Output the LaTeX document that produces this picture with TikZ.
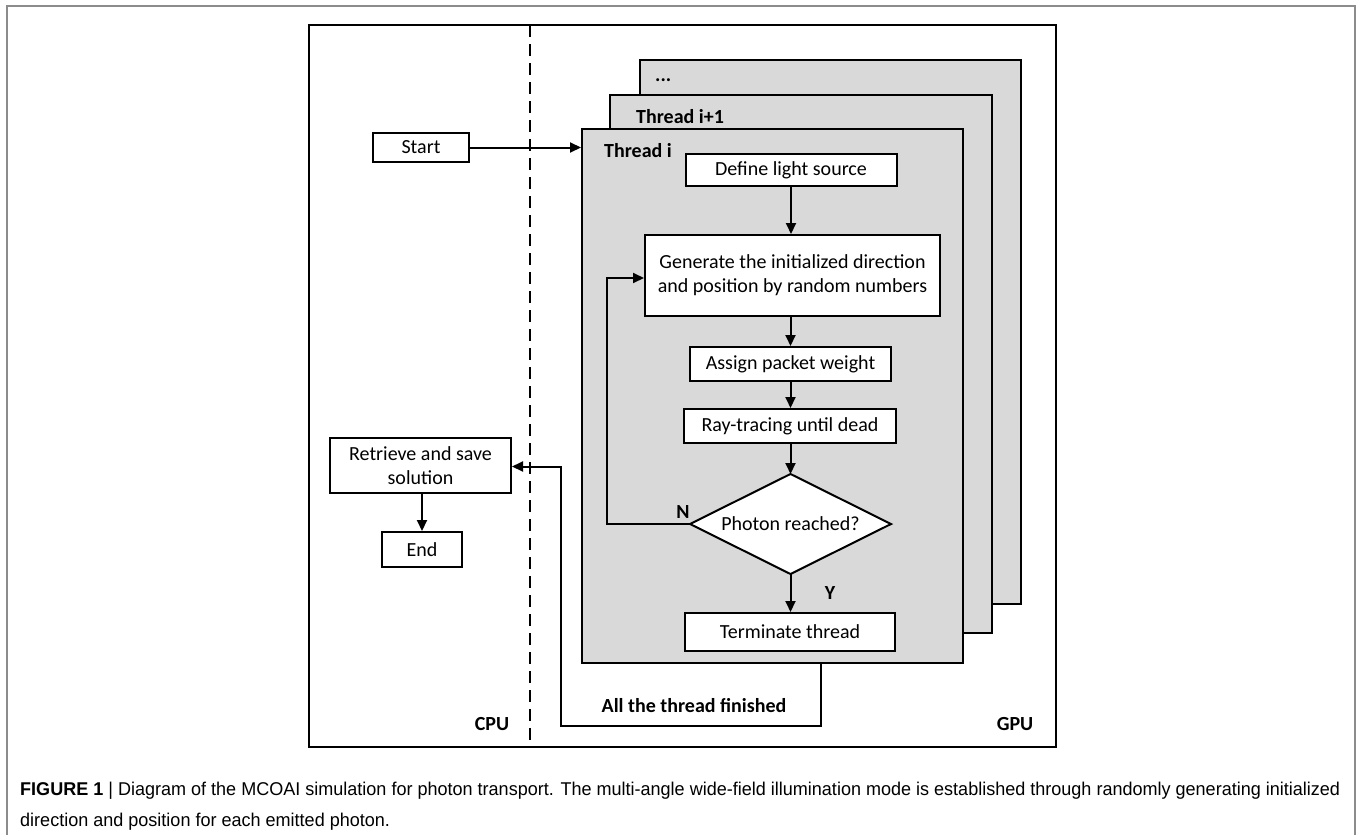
\documentclass[tikz,border=0pt]{standalone}
\usepackage{graphicx}
\usepackage{fontspec}
\setmainfont{Carlito}
\newfontfamily\capfont{Liberation Sans}
\usetikzlibrary{arrows.meta,calc}
\definecolor{thrgray}{HTML}{D9D9D9}
\definecolor{bordergray}{HTML}{8C8C8C}
\newsavebox{\caponebox}
\newsavebox{\captwobox}
\newlength{\caponewd}
\begin{document}
\sbox{\caponebox}{\capfont\fontsize{18.5}{22}\selectfont\textbf{FIGURE 1} | Diagram of the MCOAI simulation for photon transport. The multi-angle wide-field illumination mode is established through randomly generating initialized}%
\sbox{\captwobox}{\capfont\fontsize{18.5}{22}\selectfont direction and position for each emitted photon.}%
\setlength{\caponewd}{\wd\caponebox}%
\pgfmathsetmacro\capsx{1320/\caponewd}%
\begin{tikzpicture}[x=1pt,y=-1pt,
  box/.style={draw, line width=2pt, fill=white, inner sep=0pt, font=\fontsize{20}{24}\selectfont, align=center},
  thr/.style={draw, line width=2pt, fill=thrgray, inner sep=0pt},
  arr/.style={line width=2pt, -{Triangle[length=11pt,width=10pt]}},
  lbl/.style={font=\bfseries\fontsize{20}{24}\selectfont, inner sep=0pt},
  capline/.style={anchor=base west, inner sep=0pt}]
\useasboundingbox (0,0) rectangle (1360,835);
\fill[white] (0,0) rectangle (1360,835);
% outer figure border
\coordinate (ob1) at (7,835);
\coordinate (ob2) at (7,6);
\coordinate (ob3) at (1355,6);
\coordinate (ob4) at (1355,835);
\draw[bordergray, line width=1.4pt] (ob1) -- (ob2) -- (ob3) -- (ob4);
% main frame
\node[draw, line width=2pt, minimum width=747pt, minimum height=722pt, inner sep=0pt] (frame) at (682.5,386) {};
\coordinate (dtop) at (530,25);
\coordinate (dbot) at (530,747);
\draw[line width=2pt, dash pattern=on 12pt off 7pt] (dtop) -- (dbot);
% thread stack
\node[thr, minimum width=381pt, minimum height=544pt] (t3) at (830.5,332) {};
\node[thr, minimum width=382pt, minimum height=538pt] (t2) at (801,364) {};
\node[thr, minimum width=381pt, minimum height=534pt] (t1) at (772.5,396) {};
\node[lbl, anchor=west] (l3) at (655,80) {...};
\node[lbl, anchor=west] (l2) at (636,117) {Thread i+1};
\node[lbl, anchor=west] (l1) at (604,151) {Thread i};
% CPU side
\node[box, minimum width=96pt, minimum height=29pt] (start) at (421,147.5) {Start};
\node[box, minimum width=181pt, minimum height=55pt] (retr) at (420.5,465.5) {Retrieve and save\\solution};
\node[box, minimum width=80pt, minimum height=35pt] (endn) at (422,549.5) {End};
% GPU thread content
\node[box, minimum width=211pt, minimum height=32pt] (define) at (791,170) {Define light source};
\node[box, minimum width=295pt, minimum height=81pt] (gen) at (792.5,275.5) {Generate the initialized direction\\and position by random numbers};
\node[box, minimum width=201pt, minimum height=34pt] (assign) at (790.5,364) {Assign packet weight};
\node[box, minimum width=212pt, minimum height=34pt] (ray) at (790,426) {Ray-tracing until dead};
\coordinate (diaN) at (790.5,474);
\coordinate (diaE) at (891,524);
\coordinate (diaS) at (790.5,574);
\coordinate (diaW) at (690,524);
\draw[line width=2pt, fill=white, line join=miter] (diaN) -- (diaE) -- (diaS) -- (diaW) -- cycle;
\node[font=\fontsize{20}{24}\selectfont, inner sep=0pt] (dia) at (790.5,524) {Photon reached?};
\node[box, minimum width=210pt, minimum height=38pt] (term) at (790,632) {Terminate thread};
% connectors
\draw[arr] (start.east) -- (start.east -| t1.west);
\draw[arr] (define.south) -- (define.south |- gen.north);
\draw[arr] (assign.north |- gen.south) -- (assign.north);
\draw[arr] (assign.south) -- (assign.south |- ray.north);
\draw[arr] (ray.south -| diaN) -- (diaN);
\draw[arr] (diaS) -- (diaS |- term.north);
\draw[arr] (diaW) -- ++(-83,0) |- ($(gen.west)+(0,2.5)$);
\coordinate (tb) at (821,663);
\coordinate (c2) at (561,726);
\draw[arr] (tb) |- (c2) |- ($(retr.east)+(0,1)$);
\draw[arr] (endn.north |- retr.south) -- (endn.north);
% labels
\node[lbl] (nlab) at (683,512) {N};
\node[lbl] (ylab) at (830,593) {Y};
\node[lbl] (fin) at (694,706) {All the thread finished};
\node[lbl] (cpu) at (492,724) {CPU};
\node[lbl] (gpu) at (1015,724) {GPU};
% caption
\node[capline] (cap1) at (20,795) {\scalebox{\capsx}[1]{\usebox{\caponebox}}};
\node[capline] (cap2) at (20,826) {\scalebox{\capsx}[1]{\usebox{\captwobox}}};
\end{tikzpicture}
\end{document}
